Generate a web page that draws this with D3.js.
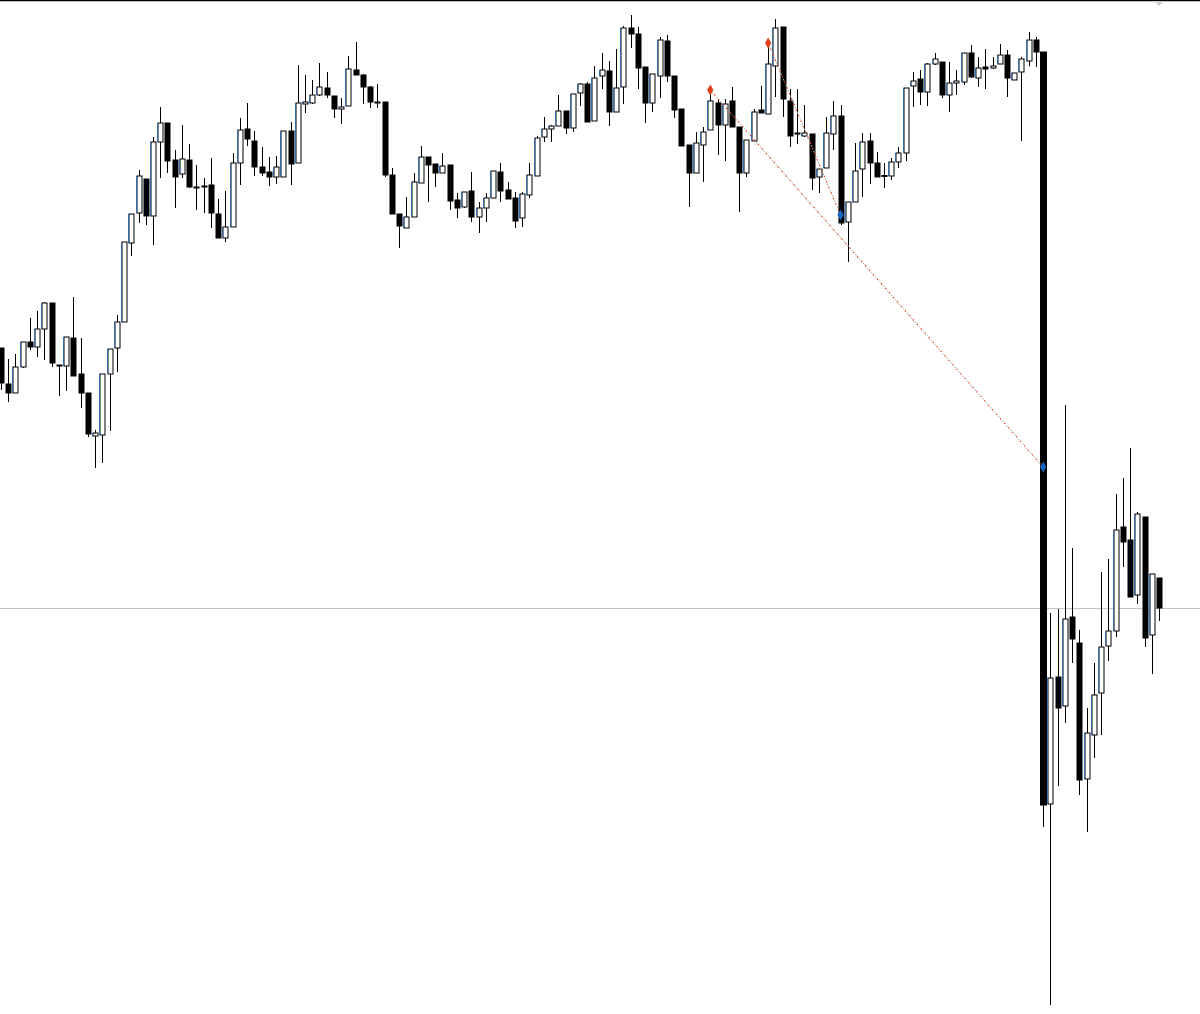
<!DOCTYPE html>
<html>
<head>
<meta charset="utf-8">
<script src="https://cdn.jsdelivr.net/npm/d3@7"></script>
<style>
  html, body { margin: 0; padding: 0; background: #fff; }
  svg { display: block; }
</style>
</head>
<body>
<svg id="chart" width="1200" height="1014"></svg>
<script>
const opens  = [348,384,393,367,342,347,329,303,365,366,338,374,393,436,435,374,348,322,243,213,179,216,142,123,160,174,160,187,186,185,214,238,227,163,129,141,167,172,177,177,131,163,104,103,95,88,96,109,106,70,75,87,102,102,175,214,228,217,183,157,164,173,165,200,207,191,217,208,198,172,190,198,218,195,176,137,129,126,111,128,93,84,121,76,71,112,87,28,34,67,103,76,41,76,109,145,173,145,130,103,125,101,127,173,141,110,114,66,27,101,133,136,134,177,168,134,116,222,202,169,141,163,176,176,162,153,86,79,92,64,62,95,83,82,53,78,67,68,64,55,80,72,61,40,52,804,677,706,617,643,779,735,693,646,631,527,540,595,517,635,578];
const highs  = [348,359,354,342,318,311,302,303,365,337,297,338,393,430,374,349,315,242,214,170,179,137,107,123,150,125,144,165,178,158,199,191,153,118,103,131,147,157,156,131,122,65,75,80,63,72,96,98,56,42,74,86,84,102,168,214,197,173,146,157,164,153,165,193,192,172,202,193,171,163,182,192,192,163,136,117,125,95,111,94,83,82,66,53,61,49,26,15,27,67,74,37,35,76,109,145,132,127,93,99,99,87,127,140,109,86,42,19,27,89,89,105,134,169,117,101,105,202,143,133,133,152,163,158,147,88,72,70,63,53,62,62,70,53,45,57,49,57,44,50,73,57,32,37,52,613,609,405,548,630,708,663,572,559,494,478,448,512,517,574,578];
const lows   = [390,402,393,368,350,357,360,367,396,391,376,408,437,468,463,431,372,322,256,223,225,245,178,173,208,178,188,210,213,228,238,242,227,185,146,176,176,186,184,177,185,163,113,104,96,98,118,124,106,75,104,108,108,177,214,248,228,217,183,202,187,173,210,218,208,222,233,222,198,202,199,228,227,198,176,142,142,126,134,132,106,122,121,89,126,112,104,48,89,123,112,98,82,118,146,207,173,182,130,155,161,127,212,177,141,113,114,97,117,147,144,137,190,193,168,150,225,262,202,197,184,177,188,180,168,161,107,105,106,65,98,112,95,85,78,87,89,69,64,97,80,141,66,67,827,1005,786,723,663,795,832,758,735,661,637,567,597,604,647,674,621];
const closes = [383,393,367,342,347,329,303,363,366,337,376,393,434,433,374,349,322,242,214,176,216,142,123,161,177,159,187,188,187,213,238,227,163,130,139,167,173,177,167,131,164,103,102,95,87,95,109,107,69,75,87,102,103,175,214,226,217,182,157,165,173,166,201,208,192,217,208,198,171,191,199,221,194,175,138,129,126,111,128,94,84,122,78,70,112,88,28,34,68,103,74,40,76,110,146,173,143,132,101,125,104,127,173,140,112,113,64,28,99,136,133.5,133,178,169,133,116,223,202,171,142,163,177,175.5,162,153,88,81,92,64,59,95,83,81,53,77,68,69,66,55,78,73,59,40,52,805,678,708,619,639,780,733,695,647,631,530,542,597,514,638,574,608];

// signal markers: candle number (1-based), level, colour
const markers = [
  { bar: 99,  level: 90,  color: "#e0401a" },
  { bar: 107, level: 43,  color: "#e0401a" },
  { bar: 117, level: 215, color: "#1565c0" },
  { bar: 145, level: 467, color: "#1565c0" }
];
// dotted lines joining markers (marker indexes)
const links = [[0, 3], [1, 2]];
const refLevel = 608;

const svg = d3.select("#chart");
const W = 1200, H = 1014;
const n = opens.length;

const x = d3.scaleLinear().domain([1, n]).range([1, 1159]);
const y = d3.scaleLinear().domain([0, 1014]).range([0, H]);
const bodyW = 5;

// top border and reference line
svg.append("line").attr("x1", 0).attr("x2", W).attr("y1", 0.5).attr("y2", 0.5)
  .attr("stroke", "#000").attr("stroke-width", 1.5);
svg.append("line").attr("x1", 0).attr("x2", W).attr("y1", y(refLevel) + 0.5).attr("y2", y(refLevel) + 0.5)
  .attr("stroke", "#c4c4c4").attr("stroke-width", 1);
svg.append("path").attr("d", "M1154,1 L1164,1 L1159,6 Z").attr("fill", "#cfcfcf");

const bars = d3.range(n).map(i => ({
  i: i + 1, o: opens[i], h: highs[i], l: lows[i], c: closes[i]
}));

const g = svg.append("g");
bars.forEach(d => {
  const cx = Math.round(x(d.i)) + 0.5;
  const top = Math.min(d.o, d.c, d.h), bot = Math.max(d.o, d.c, d.l);
  const down = d.c > d.o; // lower close -> black body
  const bw = (d.c - d.o) > 300 ? bodyW + 1 : bodyW;
  g.append("line")
    .attr("x1", cx).attr("x2", cx)
    .attr("y1", y(top)).attr("y2", y(bot))
    .attr("stroke", "#000").attr("stroke-width", 1);
  const b0 = Math.min(d.o, d.c), b1 = Math.max(d.o, d.c);
  g.append("rect")
    .attr("x", cx - bw / 2)
    .attr("y", y(b0))
    .attr("width", bw)
    .attr("height", Math.max(1, y(b1) - y(b0)))
    .attr("fill", down ? "#000" : "#fff")
    .attr("stroke", "#000").attr("stroke-width", 1);
  // faint blue fringe on the left side, like the screenshot
  if (!down) {
    g.append("line")
      .attr("x1", cx - bw / 2 - 0.5).attr("x2", cx - bw / 2 - 0.5)
      .attr("y1", y(b0)).attr("y2", y(b1))
      .attr("stroke", "#1565c0").attr("stroke-width", 1).attr("opacity", 0.7);
  }
});

// dotted signal lines
links.forEach(([a, b]) => {
  const p = markers[a], q = markers[b];
  const c = { x1: x(p.bar), y1: y(p.level), x2: x(q.bar), y2: y(q.level) };
  svg.append("line").attr("x1", c.x1).attr("y1", c.y1).attr("x2", c.x2).attr("y2", c.y2)
    .attr("stroke", "#aaa").attr("stroke-width", 1).attr("stroke-dasharray", "2,4").attr("stroke-dashoffset", 3);
  svg.append("line").attr("x1", c.x1).attr("y1", c.y1).attr("x2", c.x2).attr("y2", c.y2)
    .attr("stroke", "#e0401a").attr("stroke-width", 1.2).attr("stroke-dasharray", "1.5,4.5");
});

// diamond markers
svg.selectAll("path.mark").data(markers).enter().append("path")
  .attr("class", "mark")
  .attr("d", d3.symbol().type(d3.symbolDiamond).size(34))
  .attr("transform", d => `translate(${x(d.bar)},${y(d.level)})`)
  .attr("fill", d => d.color);
</script>
</body>
</html>
